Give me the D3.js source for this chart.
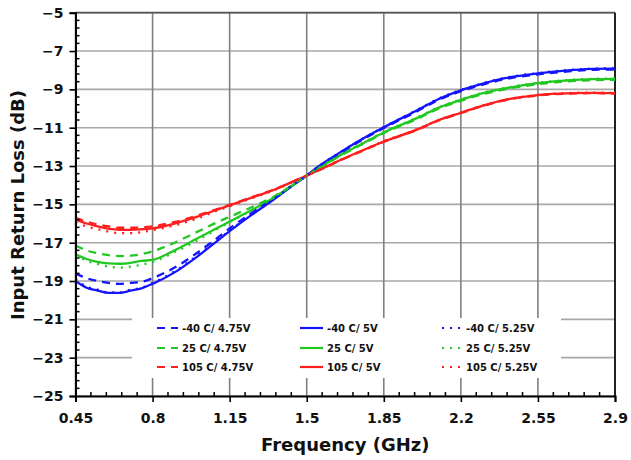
<!DOCTYPE html>
<html><head><meta charset="utf-8">
<script src="https://cdn.jsdelivr.net/npm/d3@7"></script>
<style>body{margin:0;background:#fff}svg{display:block}</style>
</head><body>
<svg id="c" width="631" height="460"></svg>
<script>
const freq = [0.45,0.5,0.55,0.6,0.65,0.7,0.75,0.8,0.9,1.0,1.1,1.15,1.25,1.35,1.45,1.5,1.55,1.65,1.75,1.85,2.0,2.1,2.2,2.3,2.4,2.55,2.7,2.8,2.9];

const blue475 = [-18.6,-18.85,-19.0,-19.1,-19.15,-19.1,-19.05,-18.85,-18.3,-17.55,-16.7,-16.25,-15.45,-14.7,-13.9,-13.5,-13.08,-12.35,-11.65,-11.02,-10.15,-9.55,-9.1,-8.75,-8.47,-8.22,-8.05,-7.98,-7.97];
const blue500 = [-19.0,-19.35,-19.5,-19.62,-19.62,-19.5,-19.38,-19.15,-18.55,-17.75,-16.85,-16.4,-15.55,-14.75,-13.9,-13.5,-13.05,-12.3,-11.6,-10.98,-10.1,-9.5,-9.05,-8.7,-8.42,-8.17,-8.0,-7.93,-7.92];
const blue525 = [-18.9,-19.3,-19.45,-19.6,-19.6,-19.45,-19.35,-19.1,-18.5,-17.7,-16.82,-16.37,-15.52,-14.73,-13.88,-13.5,-13.05,-12.3,-11.6,-10.97,-10.08,-9.48,-9.03,-8.68,-8.4,-8.15,-7.98,-7.92,-7.9];

const green475 = [-17.15,-17.4,-17.55,-17.65,-17.7,-17.68,-17.6,-17.45,-17.0,-16.45,-15.9,-15.65,-15.15,-14.6,-13.88,-13.5,-13.17,-12.48,-11.88,-11.28,-10.55,-10.0,-9.6,-9.25,-9.0,-8.73,-8.57,-8.52,-8.5];
const green500 = [-17.6,-17.85,-18.0,-18.08,-18.1,-18.05,-17.95,-17.9,-17.4,-16.8,-16.2,-15.9,-15.3,-14.65,-13.9,-13.5,-13.15,-12.45,-11.85,-11.25,-10.5,-9.95,-9.55,-9.2,-8.95,-8.68,-8.52,-8.47,-8.45];
const green525 = [-17.6,-17.95,-18.1,-18.25,-18.3,-18.25,-18.15,-18.0,-17.5,-16.9,-16.25,-15.93,-15.32,-14.67,-13.9,-13.5,-13.13,-12.43,-11.83,-11.23,-10.48,-9.93,-9.53,-9.18,-8.93,-8.66,-8.5,-8.45,-8.43];

const red475 = [-15.7,-15.9,-16.05,-16.15,-16.22,-16.22,-16.2,-16.15,-15.92,-15.6,-15.22,-15.03,-14.63,-14.23,-13.75,-13.5,-13.25,-12.72,-12.22,-11.74,-11.12,-10.62,-10.24,-9.87,-9.57,-9.32,-9.22,-9.2,-9.22];
const red500 = [-15.8,-16.0,-16.15,-16.27,-16.33,-16.33,-16.3,-16.25,-16.0,-15.65,-15.25,-15.05,-14.65,-14.25,-13.75,-13.5,-13.25,-12.7,-12.2,-11.72,-11.1,-10.6,-10.22,-9.85,-9.55,-9.3,-9.2,-9.18,-9.2];
const red525 = [-15.95,-16.15,-16.3,-16.42,-16.5,-16.5,-16.45,-16.35,-16.1,-15.75,-15.3,-15.1,-14.68,-14.27,-13.76,-13.5,-13.24,-12.7,-12.2,-11.71,-11.09,-10.6,-10.21,-9.84,-9.54,-9.29,-9.19,-9.17,-9.19];

const xTicks = [0.45,0.8,1.15,1.5,1.85,2.2,2.55,2.9];
const xTickLabels = ["0.45","0.8","1.15","1.5","1.85","2.2","2.55","2.9"];
const yTicks = [-5,-7,-9,-11,-13,-15,-17,-19,-21,-23,-25];

const seriesNames = ["-40 C/ 4.75V","-40 C/ 5V","-40 C/ 5.25V","25 C/ 4.75V","25 C/ 5V","25 C/ 5.25V","105 C/ 4.75V","105 C/ 5V","105 C/ 5.25V"];
const seriesValues = [blue475,blue500,blue525,green475,green500,green525,red475,red500,red525];
const seriesColors = ["#1414ff","#1414ff","#1414ff","#22c822","#22c822","#22c822","#ff1e1e","#ff1e1e","#ff1e1e"];
const seriesStyles = ["dash","solid","dot","dash","solid","dot","dash","solid","dot"];

const svg = d3.select("#c");
const L = 75.5, R = 615, T = 12.7, B = 396;
const x = d3.scaleLinear().domain([0.45,2.9]).range([L,R]);
const y = d3.scaleLinear().domain([-25,-5]).range([B,T]);
const dashFor = s => s==="dash" ? "8,6" : s==="dot" ? "2,6" : null;

// grid
svg.append("g").selectAll("line").data(yTicks).join("line")
  .attr("x1",L).attr("x2",R).attr("y1",d=>y(d)).attr("y2",d=>y(d))
  .attr("stroke","#a8a8a8").attr("stroke-width",1.6);
svg.append("g").selectAll("line").data(xTicks).join("line")
  .attr("y1",T).attr("y2",B).attr("x1",d=>x(d)).attr("x2",d=>x(d))
  .attr("stroke","#808080").attr("stroke-width",1.6);
// top and right border
svg.append("line").attr("x1",L).attr("x2",R).attr("y1",T).attr("y2",T).attr("stroke","#555").attr("stroke-width",1.8);
svg.append("line").attr("x1",R).attr("x2",R).attr("y1",T).attr("y2",B).attr("stroke","#222").attr("stroke-width",2);

// legend background
svg.append("rect").attr("x",132).attr("y",318).attr("width",429).attr("height",60).attr("fill","#fff");

// lines
svg.append("clipPath").attr("id","clip").append("rect").attr("x",L).attr("y",T).attr("width",R-L).attr("height",B-T);
const line = d3.line().x((d,i)=>x(freq[i])).y(d=>y(d)).curve(d3.curveMonotoneX);
const order = [1,4,7,0,3,6,2,5,8];
const lg = svg.append("g").attr("clip-path","url(#clip)");
order.forEach(i=>{
  lg.append("path").attr("d",line(seriesValues[i])).attr("fill","none")
    .attr("stroke",seriesColors[i]).attr("stroke-width",2.3)
    .attr("stroke-dasharray",dashFor(seriesStyles[i]));
});

// axes
const xAxis = svg.append("g").attr("transform",`translate(0,${B})`)
  .call(d3.axisBottom(x).tickValues(xTicks).tickFormat((d,i)=>xTickLabels[i]).tickSize(6).tickPadding(11));
xAxis.select(".domain").attr("stroke","#000").attr("stroke-width",2);
xAxis.selectAll(".tick line").attr("stroke","#000").attr("stroke-width",1.6);
xAxis.selectAll("text").attr("font-family","DejaVu Sans").attr("font-weight","bold").attr("font-size",14).attr("fill","#111");
const xMinor = d3.range(0,36).map(i=>0.45+i*0.07).filter((v,i)=>i%5!==0);
svg.append("g").selectAll("line").data(xMinor).join("line")
  .attr("x1",d=>x(d)).attr("x2",d=>x(d)).attr("y1",B).attr("y2",B-4)
  .attr("stroke","#000").attr("stroke-width",1.5);

const yAxis = svg.append("g").attr("transform",`translate(${L},0)`)
  .call(d3.axisLeft(y).tickValues(yTicks).tickFormat(d3.format("d")).tickSize(6).tickPadding(6));
yAxis.select(".domain").attr("stroke","#000").attr("stroke-width",2);
yAxis.selectAll(".tick line").attr("stroke","#000").attr("stroke-width",1.6);
yAxis.selectAll("text").attr("font-family","DejaVu Sans").attr("font-weight","bold").attr("font-size",14).attr("fill","#111");
const yMinor = d3.range(0,51).map(i=>-25+i*0.4).filter((v,i)=>i%5!==0);
svg.append("g").selectAll("line").data(yMinor).join("line")
  .attr("x1",L).attr("x2",L+4).attr("y1",d=>y(d)).attr("y2",d=>y(d))
  .attr("stroke","#000").attr("stroke-width",1.5);

// axis titles
svg.append("text").attr("x",(L+R)/2).attr("y",451).attr("text-anchor","middle")
  .attr("font-family","DejaVu Sans").attr("font-weight","bold").attr("font-size",18).attr("fill","#111")
  .text("Frequency (GHz)");
svg.append("text").attr("transform","translate(24,205) rotate(-90)").attr("text-anchor","middle")
  .attr("font-family","DejaVu Sans").attr("font-weight","bold").attr("font-size",18).attr("fill","#111")
  .text("Input Return Loss (dB)");

// legend
const colX = [157,300,442];
const colLen = [21,23,20];
const rowY = [328,348,367];
const legOrder = [[0,3,6],[1,4,7],[2,5,8]];
legOrder.forEach((col,c)=>{
  col.forEach((si,r)=>{
    svg.append("line").attr("x1",colX[c]).attr("x2",colX[c]+colLen[c]).attr("y1",rowY[r]).attr("y2",rowY[r])
      .attr("stroke",seriesColors[si]).attr("stroke-width",2.2).attr("stroke-dasharray",dashFor(seriesStyles[si]));
    svg.append("text").attr("x",colX[c]+colLen[c]+4).attr("y",rowY[r]+3.5)
      .attr("font-family","DejaVu Sans").attr("font-weight","bold").attr("font-size",10).attr("fill","#111")
      .text(seriesNames[si]);
  });
});
</script>
</body></html>
